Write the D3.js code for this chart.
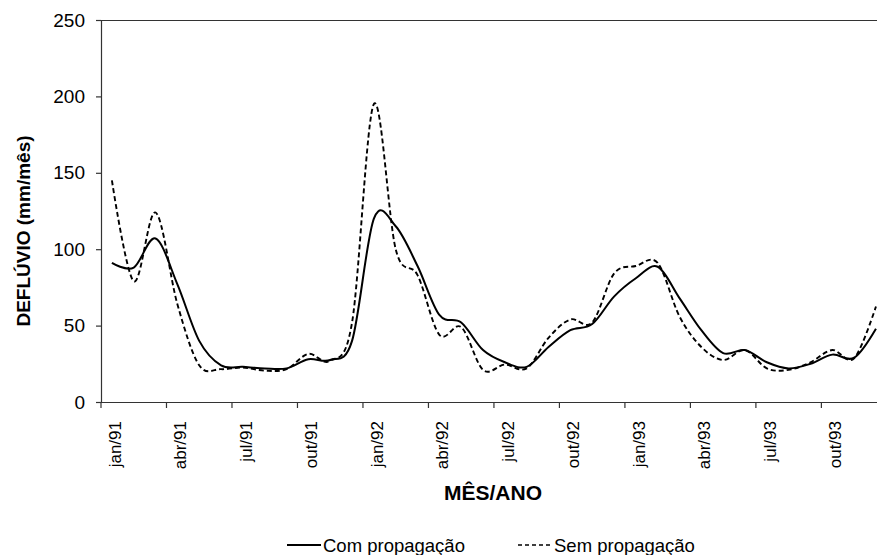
<!DOCTYPE html>
<html><head><meta charset="utf-8">
<script src="https://cdn.jsdelivr.net/npm/d3@7"></script>
<style>body{margin:0;background:#fff;} text{font-family:Arial,"Liberation Sans",sans-serif;fill:#000;}</style>
</head><body>
<svg id="c" width="877" height="555"></svg>
<script>
const months = ["jan/91","fev/91","mar/91","abr/91","mai/91","jun/91","jul/91","ago/91","set/91","out/91","nov/91","dez/91",
"jan/92","fev/92","mar/92","abr/92","mai/92","jun/92","jul/92","ago/92","set/92","out/92","nov/92","dez/92",
"jan/93","fev/93","mar/93","abr/93","mai/93","jun/93","jul/93","ago/93","set/93","out/93","nov/93","dez/93"];
const comPropagacao = [91,88,107,77,40,24,23,22,22,28,27.5,40,120,115,89,57,52,34,26,23,36,47,51,69,81,88.5,68,47,32,34,26,22,25,31,29,48];
const semPropagacao = [145,79,124,64,24,21.5,22.5,20.5,21.5,31.5,27,52,195,100,83,44,49,21,24.5,22,42,54,52,84,89,91,56,36,27.5,34,22,21,26,34,28.6,62.5];
const yTicks = [0,50,100,150,200,250];
const tickLabels = months.filter((m,i)=>i%3===0);

const svg = d3.select("#c");
const mLeft = 101, mTop = 20, mBottom = 402, step = 21.83;
const x = d3.scaleBand().domain(months).range([mLeft, mLeft + step*months.length]).paddingInner(0).paddingOuter(0);
const y = d3.scaleLinear().domain([0,250]).range([mBottom, mTop]);

// top border
svg.append("line").attr("x1",mLeft).attr("x2",877).attr("y1",mTop+0.5).attr("y2",mTop+0.5).attr("stroke","#333").attr("stroke-width",1.2);

// y axis
const ya = svg.append("g").attr("transform",`translate(${mLeft},0)`)
  .call(d3.axisLeft(y).tickValues(yTicks).tickSize(5).tickFormat(""));
ya.select(".domain").attr("stroke","#333").attr("stroke-width",1.2);
ya.selectAll(".tick line").attr("stroke","#333").attr("stroke-width",1.2);
yTicks.forEach(v=>{
  svg.append("text").attr("x",mLeft-16).attr("y",y(v)).attr("text-anchor","end")
    .attr("dominant-baseline","central").attr("font-size",19).attr("transform",null)
    .text(v);
});

// x axis
const xa = svg.append("g").attr("transform",`translate(0,${mBottom})`);
xa.append("line").attr("x1",mLeft-5).attr("x2",877).attr("y1",0.5).attr("y2",0.5).attr("stroke","#333").attr("stroke-width",1.2);
months.forEach((m,i)=>{ if(i%3===0){
  xa.append("line").attr("x1",x(m)).attr("x2",x(m)).attr("y1",0).attr("y2",6).attr("stroke","#333").attr("stroke-width",1.2);
}});
tickLabels.forEach(m=>{
  const cx = x(m) + x.bandwidth()/2 + 3.5;
  xa.append("text").attr("transform",`translate(${cx},19) rotate(-90)`)
    .attr("text-anchor","end").attr("dominant-baseline","central")
    .attr("font-size",17).text(m);
});

// lines
const line = d3.line().x((d,i)=>x(months[i]) + x.bandwidth()/2).y(d=>y(d)).curve(d3.curveCardinal.tension(0));
svg.append("path").datum(semPropagacao).attr("d",line).attr("fill","none").attr("stroke","#000").attr("stroke-width",1.9).attr("stroke-dasharray","5,3");
svg.append("path").datum(comPropagacao).attr("d",line).attr("fill","none").attr("stroke","#000").attr("stroke-width",2);

// axis titles
svg.append("text").attr("transform","translate(23,231) rotate(-90)").attr("text-anchor","middle").attr("dominant-baseline","central")
  .attr("font-size",19).attr("font-weight","bold").text("DEFLÚVIO (mm/mês)");
svg.append("text").attr("x",493).attr("y",500).attr("text-anchor","middle")
  .attr("font-size",21).attr("font-weight","bold").text("MÊS/ANO");

// legend
const lg = svg.append("g");
lg.append("line").attr("x1",287).attr("x2",321).attr("y1",545).attr("y2",545).attr("stroke","#000").attr("stroke-width",2);
lg.append("text").attr("x",323).attr("y",551.5).attr("font-size",18.5).text("Com propagação");
lg.append("line").attr("x1",518).attr("x2",552).attr("y1",545).attr("y2",545).attr("stroke","#000").attr("stroke-width",1.6).attr("stroke-dasharray","4,3");
lg.append("text").attr("x",554).attr("y",551.5).attr("font-size",18.5).text("Sem propagação");
</script>
</body></html>
